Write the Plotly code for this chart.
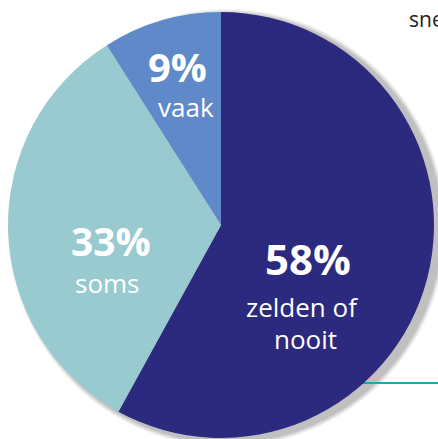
import plotly.graph_objects as go

# share of respondents per answer
labels = ["zelden of nooit", "soms", "vaak"]
values = [58, 33, 9]
pct_labels = ["58%", "33%", "9%"]
colors = ["#2B2A7F", "#98CACF", "#6089C9"]

W, H = 438, 439
CX, CY, R = 221, 225, 213  # pie centre / radius in pixels


def px(x):
    return x / W


def py(y):
    return 1 - y / H


fig = go.Figure()

fig.add_trace(go.Pie(
    labels=labels,
    values=values,
    sort=False,
    direction="clockwise",
    rotation=0,
    marker=dict(colors=colors, line=dict(width=0)),
    textinfo="none",
    hoverinfo="label+percent",
    showlegend=False,
    domain=dict(x=[px(CX - R), px(CX + R)], y=[py(CY + R), py(CY - R)]),
))

# soft drop shadow to the right of the pie
shapes = []
for k, a in enumerate([0.04, 0.05, 0.05, 0.06, 0.07]):
    r = R + 6 - k
    ox, oy = 6, 3
    shapes.append(dict(
        type="circle", xref="paper", yref="paper", layer="below",
        x0=px(CX + ox - r), x1=px(CX + ox + r),
        y0=py(CY + oy + r), y1=py(CY + oy - r),
        fillcolor=f"rgba(0,0,0,{a})", line=dict(width=0),
    ))

# teal rule behind the pie
shapes.append(dict(
    type="line", xref="paper", yref="paper", layer="below",
    x0=px(330), x1=1.0, y0=py(383), y1=py(383),
    line=dict(color="#19A9AF", width=2),
))


def label(x, y, text, size, bold=False):
    return dict(
        x=px(x), y=py(y), xref="paper", yref="paper", showarrow=False,
        xanchor="center", yanchor="middle",
        text=f"<b>{text}</b>" if bold else text,
        font=dict(family="Open Sans", size=size, color="white"),
    )


annotations = [
    label(308, 258, pct_labels[0], 42, bold=True),
    label(302, 307, "zelden of", 26),
    label(305, 339, "nooit", 26),
    label(111, 240, pct_labels[1], 39, bold=True),
    label(107, 283, labels[1], 26),
    label(177, 67, pct_labels[2], 40, bold=True),
    label(186, 107, labels[2], 26),
    dict(
        x=px(407), y=py(19), xref="paper", yref="paper", showarrow=False,
        xanchor="left", yanchor="middle", text="sne",
        font=dict(family="Open Sans", size=21, color="#222222"),
    ),
]

fig.update_layout(
    width=W,
    height=H,
    margin=dict(l=0, r=0, t=0, b=0),
    paper_bgcolor="white",
    plot_bgcolor="white",
    shapes=shapes,
    annotations=annotations,
)

# drop the default page margin so the figure fills the window exactly
fig.write_html(
    "out.html",
    config={"displayModeBar": False},
    post_script="document.body.style.margin='0';document.body.style.overflow='hidden';",
)
